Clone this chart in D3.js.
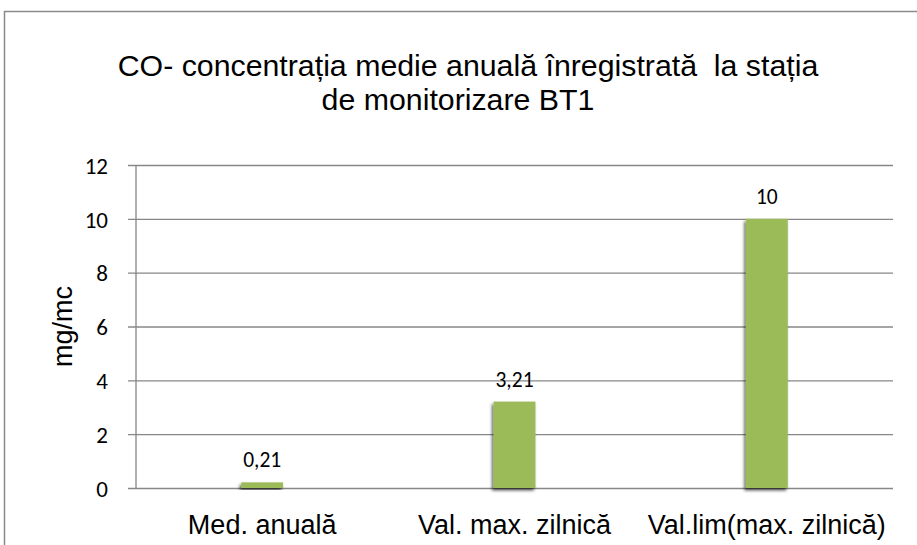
<!DOCTYPE html>
<html>
<head>
<meta charset="utf-8">
<script src="https://cdn.jsdelivr.net/npm/d3@7"></script>
<style>
  html, body { margin: 0; padding: 0; background: #fff; }
  svg { display: block; }
</style>
</head>
<body>
<svg id="chart" width="917" height="545"></svg>
<script>
const categories = ["Med. anuală", "Val. max. zilnică", "Val.lim(max. zilnică)"];
const values = [0.21, 3.21, 10];
const valueLabels = ["0,21", "3,21", "10"];
const yTicks = [0, 2, 4, 6, 8, 10, 12];
const titleLines = ["CO- concentrația medie anuală înregistrată  la stația", "de monitorizare BT1"];
const yAxisTitle = "mg/mc";

const svg = d3.select("#chart");
const plot = { left: 136, right: 893, top: 165, bottom: 488 };

// outer chart frame
svg.append("rect")
  .attr("x", 4.5).attr("y", 11.5)
  .attr("width", 1000).attr("height", 1000)
  .attr("fill", "none").attr("stroke", "#8a8a8a").attr("stroke-width", 1.5);

// shadow filter
const defs = svg.append("defs");
const f = defs.append("filter").attr("id", "shadow")
  .attr("x", "-40%").attr("y", "-10%").attr("width", "180%").attr("height", "130%");
f.append("feDropShadow")
  .attr("dx", -1.5).attr("dy", 2.5).attr("stdDeviation", 1.8)
  .attr("flood-color", "#000").attr("flood-opacity", 0.65);

// title
const titleCenters = [468, 458];
const titleBaselines = [76, 110];
svg.append("g").selectAll("text").data(titleLines).join("text")
  .attr("x", (d, i) => titleCenters[i])
  .attr("y", (d, i) => titleBaselines[i])
  .attr("text-anchor", "middle")
  .attr("xml:space", "preserve")
  .style("white-space", "pre")
  .attr("font-family", "'Liberation Sans', Arial, sans-serif")
  .attr("font-size", 30.3)
  .attr("fill", "#000")
  .text(d => d);

const x = d3.scaleBand()
  .domain(categories)
  .range([plot.left, plot.right])
  .paddingInner(0.834)
  .paddingOuter(0.417);

const y = d3.scaleLinear()
  .domain([0, 12])
  .range([plot.bottom, plot.top]);

// gridlines + y axis via d3.axisLeft
const yAxis = d3.axisLeft(y)
  .tickValues(yTicks)
  .tickSize(-(plot.right - plot.left))
  .tickPadding(28)
  .tickFormat(d3.format("d"));

const gy = svg.append("g")
  .attr("transform", `translate(${plot.left},0)`)
  .call(yAxis);
gy.select(".domain").remove();
gy.selectAll(".tick line")
  .attr("x1", -8)
  .attr("stroke", "#878787").attr("stroke-width", 1.3);
gy.selectAll(".tick text")
  .attr("font-family", "Carlito, Calibri, Lato, sans-serif")
  .attr("font-size", 23)
  .attr("fill", "#000")
  .attr("dy", "0.36em");

// vertical axis line
svg.append("line")
  .attr("x1", plot.left).attr("x2", plot.left)
  .attr("y1", y(12)).attr("y2", y(0))
  .attr("stroke", "#878787").attr("stroke-width", 1.3);

// bars
svg.append("g").selectAll("rect").data(values).join("rect")
  .attr("x", (d, i) => x(categories[i]))
  .attr("y", d => y(d))
  .attr("width", x.bandwidth())
  .attr("height", d => y(0) - y(d))
  .attr("fill", "#9BBB59")
  .attr("filter", "url(#shadow)");

// data labels
svg.append("g").selectAll("text").data(values).join("text")
  .attr("x", (d, i) => x(categories[i]) + x.bandwidth() / 2)
  .attr("y", d => y(d) - 15)
  .attr("text-anchor", "middle")
  .attr("font-family", "Carlito, Calibri, Lato, sans-serif")
  .attr("font-size", 21.5)
  .attr("fill", "#000")
  .text((d, i) => valueLabels[i]);

// category labels (x axis)
const xAxis = d3.axisBottom(x).tickSize(0).tickPadding(0);
const gx = svg.append("g")
  .attr("transform", `translate(0,${plot.bottom})`)
  .call(xAxis);
gx.select(".domain").remove();
gx.selectAll(".tick text")
  .attr("y", 46)
  .attr("dy", 0)
  .attr("font-family", "'Liberation Sans', Arial, sans-serif")
  .attr("font-size", 27)
  .attr("fill", "#000");

// y axis title
svg.append("text")
  .attr("transform", `translate(72,${(plot.top + plot.bottom) / 2}) rotate(-90)`)
  .attr("text-anchor", "middle")
  .attr("font-family", "'Liberation Sans', Arial, sans-serif")
  .attr("font-size", 27)
  .attr("fill", "#000")
  .text(yAxisTitle);
</script>
</body>
</html>
